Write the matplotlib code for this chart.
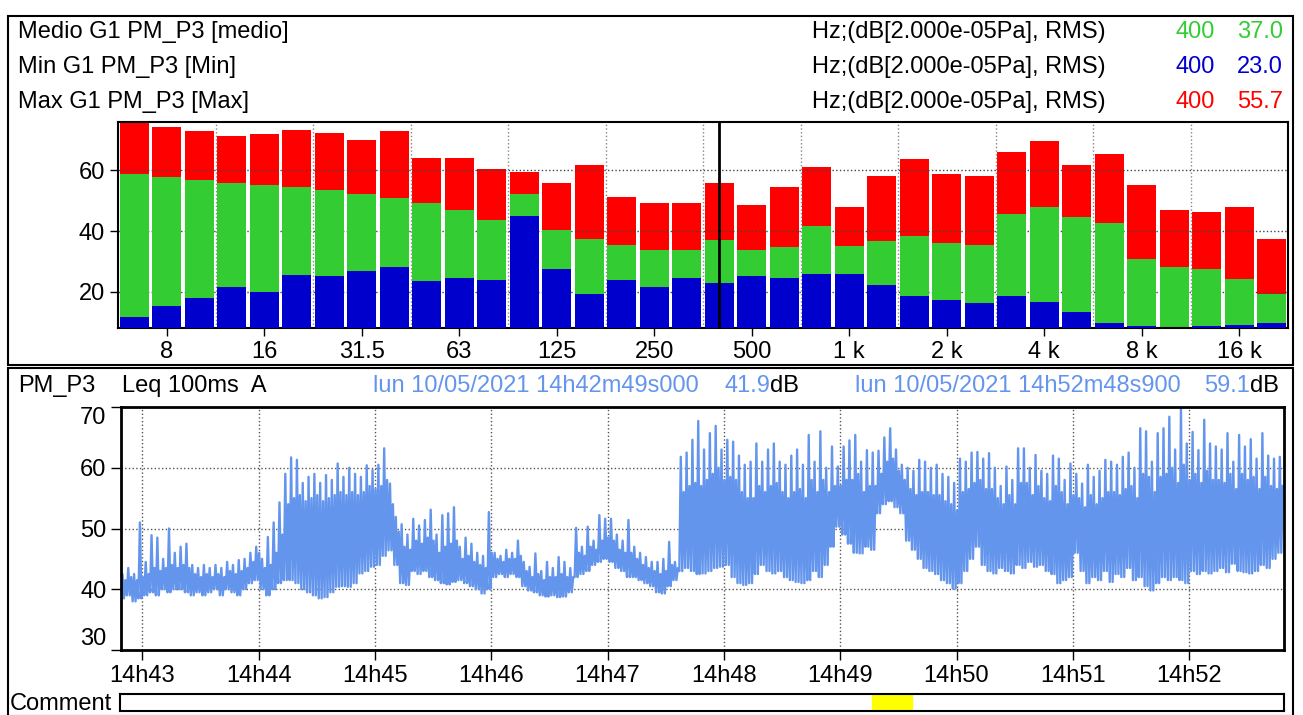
import numpy as np
import matplotlib.pyplot as plt
from matplotlib.patches import Rectangle

plt.rcParams['font.family'] = ['Liberation Sans', 'DejaVu Sans']

W, H = 1303, 715

# --- spectre 1/3 octave ---
bands = ['6.3', '8', '10', '12.5', '16', '20', '25', '31.5', '40', '50', '63', '80',
         '100', '125', '160', '200', '250', '315', '400', '500', '630', '800', '1 k', '1.25 k',
         '1.6 k', '2 k', '2.5 k', '3.15 k', '4 k', '5 k', '6.3 k', '8 k', '10 k', '12.5 k', '16 k', '20 k']
tick_bands = ['8', '16', '31.5', '63', '125', '250', '500', '1 k', '2 k', '4 k', '8 k', '16 k']

max_db = [75.9, 74.4, 72.9, 71.5, 72.1, 73.4, 72.4, 70.1, 72.9, 64.2, 64.2, 60.5,
          59.6, 55.9, 61.9, 51.3, 49.3, 49.3, 55.7, 48.7, 54.6, 61.2, 48.0, 58.2,
          63.8, 58.9, 58.2, 66.2, 69.8, 61.9, 65.5, 55.3, 47.0, 46.4, 48.0, 37.5]
mean_db = [58.9, 57.7, 56.9, 55.9, 55.3, 54.6, 53.6, 52.3, 51.0, 49.3, 47.0, 43.7,
           52.3, 40.2, 37.5, 35.5, 33.8, 33.8, 37.0, 33.8, 34.8, 41.8, 35.2, 36.8,
           38.5, 36.2, 35.5, 45.7, 48.0, 44.7, 42.7, 30.9, 28.2, 27.6, 24.3, 19.1]
min_db = [11.5, 15.1, 18.0, 21.6, 20.0, 25.6, 25.3, 26.9, 28.2, 23.6, 24.6, 24.0,
          45.1, 27.6, 19.3, 24.0, 21.6, 24.6, 23.0, 25.3, 24.6, 25.9, 25.9, 22.3,
          18.7, 17.4, 16.4, 18.7, 16.7, 13.4, 9.8, 8.5, 7.5, 8.5, 9.1, 9.8]
cursor_band = '400'

legend_rows = [('Medio G1 PM_P3 [medio]', '400', '37.0', '#33cc33'),
               ('Min G1 PM_P3 [Min]', '400', '23.0', '#0000cc'),
               ('Max G1 PM_P3 [Max]', '400', '55.7', '#ff0000')]

# --- Leq 100ms A, enveloppe lue toutes les 3 s depuis 14h42m49 ---
# lo = bas de la bande, mid = haut de la partie dense, hi = pointe
t_step = 3.0
t_start_min = 42 + 49 / 60.0   # 14h42m49s
leq_lo = [38.5, 39, 38, 38.5, 39, 39.5, 39, 40, 39.5, 40,
          40, 39.5, 39, 39.5, 39, 39.5, 40, 39, 40, 39.5,
          39, 40, 41, 41.5, 40, 39, 40, 41, 41.5, 41.5,
          41, 40, 39.5, 39, 38.5, 38.7, 39.5, 40.4, 40.5, 40.4,
          41, 42.6, 43, 43.7, 44, 45.5, 46.4, 44, 41, 40.7,
          43, 42.5, 43, 42, 41.5, 41, 40.8, 41.2, 41.5, 41,
          40.5, 40, 39.3, 40, 42, 42.5, 42, 42.5, 42, 40.5,
          39.8, 39.5, 39, 38.8, 39, 38.7, 38.8, 39.5, 42, 42.5,
          43, 44, 44.5, 45, 44.5, 43.5, 43, 42, 42, 41.5,
          41, 40.5, 39.5, 39.3, 40.5, 41.5, 43, 43.5, 43, 42.5,
          42.6, 43, 43.5, 43.7, 44, 42, 41, 40.7, 41, 42.5,
          44, 43, 42.6, 43, 42, 41.5, 41.2, 41, 41.5, 43,
          42, 44, 47, 50.3, 49, 47.5, 46, 45.9, 47, 46.5,
          52.5, 54, 54.5, 53.5, 52.5, 48, 46.5, 45, 43.5, 43,
          42.5, 41.5, 41, 40.1, 41, 43, 45, 47, 44, 43,
          42.6, 43.5, 43, 42.6, 44, 43.5, 44.5, 43.7, 44, 43,
          42.5, 41, 41.5, 42, 46, 43, 41, 42, 41.5, 43,
          41.2, 42.5, 42, 43.5, 41.5, 42, 40.5, 39.8, 41, 42,
          41.5, 42, 41.5, 41, 43, 42.5, 43, 42.6, 43, 43.5,
          42.8, 44.2, 43, 42.8, 42.6, 43, 44, 43.5, 45, 46]
leq_mid = [41.5, 42, 41.5, 42, 42.5, 43.5, 43, 43.5, 44, 43.5,
           44, 43.5, 42.5, 42, 42.5, 42, 42.5, 42, 43, 42.5,
           43, 43.5, 44.5, 46, 43.5, 44, 46, 49, 54, 55,
           55.5, 54.5, 55, 55.5, 54.5, 55, 55.5, 56, 55.5, 56,
           55.5, 56, 57, 56.5, 57, 58, 54, 49.5, 47, 46.5,
           48, 47.5, 48.5, 48, 46, 47, 47.5, 48, 45, 45.5,
           44.5, 44, 43.5, 46, 45, 44.5, 45, 45, 45.5, 43,
           42, 42.5, 41.5, 42, 42, 42.5, 42, 42, 46, 45.5,
           47, 46.5, 48, 48.5, 48, 46.5, 46, 46, 45, 44,
           43.5, 43, 42.5, 43, 44, 43.5, 56, 57, 57.5, 57,
           58, 59, 60, 58, 58.5, 58, 56, 55, 55, 57,
           56, 57, 57.5, 56, 55, 56, 56.5, 55, 58, 56,
           58, 56, 57, 57, 58, 58, 59, 56, 57, 57,
           59, 61, 61.5, 59.5, 58, 56.5, 55.5, 56, 56, 55.5,
           55.5, 54.5, 54, 53, 56, 56.5, 57.5, 58, 56.5, 56.5,
           55, 54, 55.5, 54, 57.5, 57.5, 55.5, 57, 55, 54.5,
           57, 56, 54, 55.5, 55, 53.5, 55.5, 54, 55, 56,
           56, 55.5, 56.5, 57, 55, 59, 58.5, 56, 58.5, 59,
           60, 57.5, 60.5, 58, 59, 57.5, 59.5, 58, 58, 57.5,
           59, 56.5, 59, 58, 58.5, 56.5, 58.5, 57, 56.5, 57]
leq_hi = [42.5, 43.5, 42.5, 51, 44.5, 48.9, 48.5, 45, 50, 46,
          47, 47.5, 44, 43.5, 44, 43.5, 44, 43.5, 44.5, 44,
          44.8, 45, 46, 47, 45, 48.6, 51, 54.3, 59, 61.7,
          61.3, 57.5, 58.5, 59, 57.5, 58.8, 58, 60.7, 58.5, 60,
          59, 58.5, 60.4, 59.6, 60.5, 63.2, 57.4, 51.9, 50.7, 49,
          51.6, 50.5, 51.4, 53.1, 49, 52.2, 52.5, 53.5, 47, 48.5,
          47.5, 46, 45.5, 52.7, 46, 45.5, 46.5, 46, 48, 44.5,
          43.7, 45.9, 43, 44.5, 43.5, 45.3, 44.5, 43.5, 50.1, 47,
          50.3, 48, 52.2, 51.6, 51.6, 49, 48, 51.4, 47, 46,
          45.3, 44.5, 44.5, 45, 47.8, 44.5, 61.8, 62.5, 64.6, 67.7,
          63, 65.7, 66.9, 63, 64.6, 64.3, 62, 60.5, 61, 64,
          61, 63, 64, 61, 60.5, 62, 63, 60.5, 65.4, 61,
          66, 60, 63.5, 60.2, 63.5, 64.5, 65.4, 61, 62.9, 62.5,
          62.8, 65, 66.5, 63, 60.5, 60, 59.5, 61.3, 61, 60,
          60.5, 59, 58.5, 57.5, 61.5, 61, 62.5, 62.6, 61.5, 62.4,
          60, 57, 60.2, 58, 63.2, 63.2, 60, 62.1, 59.5, 59,
          62, 61.5, 58, 60.7, 59, 57.4, 60.5, 58.5, 59.5, 61.3,
          61, 60.5, 61.8, 62.5, 60, 66.5, 66, 61, 65.7, 66.5,
          68.4, 63, 69.8, 64, 65.9, 62.9, 67.9, 64, 63.5, 63,
          65.7, 61, 65.4, 63.5, 64.7, 61.5, 65.7, 62, 61.5, 61.8]
time_ticks_min = [43, 44, 45, 46, 47, 48, 49, 50, 51, 52]
t_end = 599.9
comment_span = (387.5, 408.0)

FS = 17


def rect(l, t, r, b):
    return [l / W, 1 - b / H, (r - l) / W, (b - t) / H]


def ftext(x, y, s, **kw):
    fig.text(x / W, 1 - y / H, s, va='center', fontsize=FS, **kw)


fig = plt.figure(figsize=(W / 100, H / 100), dpi=100)
fig.patch.set_facecolor('white')

# cadres des panneaux
fig.add_artist(Rectangle((8 / W, 1 - 365 / H), 1285 / W, 349 / H, fill=False,
                         lw=1.5, ec='black', transform=fig.transFigure))
fig.add_artist(Rectangle((8 / W, 1 - 716 / H), 1285 / W, 348 / H, fill=False,
                         lw=1.5, ec='black', transform=fig.transFigure))

# legende du spectre
for k, (name, f, val, col) in enumerate(legend_rows):
    y = 32 + 35 * k
    ftext(18, y, name)
    ftext(812, y, 'Hz;(dB[2.000e-05Pa], RMS)')
    ftext(1215, y, f, color=col, ha='right')
    ftext(1283, y, val, color=col, ha='right')

# --- barres ---
ax = fig.add_axes(rect(118, 122, 1288, 328))
x = np.arange(len(bands))
ax.bar(x, max_db, width=0.88, color='#ff0000', zorder=1)
ax.bar(x, mean_db, width=0.88, color='#33cc33', zorder=2)
ax.bar(x, min_db, width=0.88, color='#0000cc', zorder=3)
ax.axvline(bands.index(cursor_band), color='black', lw=2, zorder=5)
ax.set_xlim(-0.5, len(bands) - 0.5)
ax.set_ylim(8, 76)
ax.set_yticks([20, 40, 60])
ax.set_xticks([bands.index(b) for b in tick_bands])
ax.set_xticklabels(tick_bands)
ax.set_xticks(np.arange(2.5, len(bands) - 1, 3), minor=True)
ax.grid(axis='y', color='#444444', ls=':', lw=1, zorder=4)
ax.grid(axis='x', which='minor', color='#888888', ls=':', lw=1, zorder=4)
ax.tick_params(axis='both', which='major', labelsize=FS, length=6, width=1)
ax.tick_params(axis='x', which='minor', length=0)
for s in ax.spines.values():
    s.set_linewidth(1.5)

# --- entete du Leq ---
blue = '#6495ed'
ftext(18, 386, 'PM_P3')
ftext(122, 386, 'Leq 100ms  A')
ftext(373, 386, 'lun 10/05/2021 14h42m49s000', color=blue)
ftext(770, 386, '41.9', color=blue, ha='right')
ftext(770, 386, 'dB')
ftext(855, 386, 'lun 10/05/2021 14h52m48s900', color=blue)
ftext(1250, 386, '59.1', color=blue, ha='right')
ftext(1250, 386, 'dB')

# --- evolution temporelle ---
ax2 = fig.add_axes(rect(121, 407, 1284, 650))
t0 = np.arange(len(leq_lo)) * t_step
q = t_step / 4
xs = np.empty(4 * len(t0))
ys = np.empty(4 * len(t0))
xs[0::4], ys[0::4] = t0, leq_lo
xs[1::4], ys[1::4] = t0 + q, leq_hi
xs[2::4], ys[2::4] = t0 + 2 * q, leq_lo
xs[3::4], ys[3::4] = t0 + 3 * q, leq_mid
ax2.plot(xs, ys, color=blue, lw=1.7)
ax2.set_xlim(0, t_end)
ax2.set_ylim(30, 70)
ax2.set_yticks([30, 40, 50, 60, 70])
tk = [(m - t_start_min) * 60 for m in time_ticks_min]
ax2.set_xticks(tk)
ax2.set_xticklabels(['14h%d' % m for m in time_ticks_min])
ax2.grid(True, color='#555555', ls=':', lw=1)
ax2.tick_params(axis='both', labelsize=FS, length=7, width=1)
ylabs = ax2.get_yticklabels()
ylabs[0].set_va('bottom')
ylabs[-1].set_va('top')
for s in ax2.spines.values():
    s.set_linewidth(2)

# --- barre commentaire ---
ftext(10, 704, 'Comment')
ax3 = fig.add_axes(rect(120, 694, 1284, 711))
ax3.axvspan(comment_span[0], comment_span[1], color='#ffff00')
ax3.set_xlim(0, t_end)
ax3.set_ylim(0, 1)
ax3.set_xticks([])
ax3.set_yticks([])
for s in ax3.spines.values():
    s.set_linewidth(1.5)

fig.savefig('out.png', dpi=100)
